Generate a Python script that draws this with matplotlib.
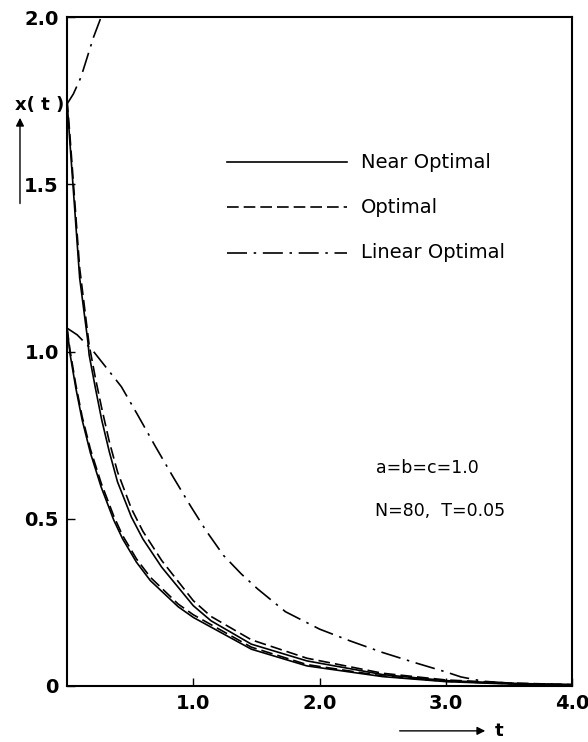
import numpy as np
import matplotlib
matplotlib.use('Agg')
import matplotlib.pyplot as plt
from matplotlib.patches import FancyArrowPatch

# values (t, x(t))
t_near_hi = [0.0, 0.02, 0.10, 0.165, 0.175, 0.225, 0.275, 0.335, 0.40, 0.51,
             0.60, 0.75, 1.00, 1.14, 1.46, 1.90, 2.50, 3.00, 3.50, 4.00]
x_near_hi = [1.75, 1.64, 1.22, 1.03, 0.99, 0.89, 0.795, 0.70, 0.61, 0.505,
             0.44, 0.355, 0.24, 0.195, 0.125, 0.075, 0.034, 0.016, 0.008, 0.004]

t_opt_hi = [0.0, 0.02, 0.10, 0.175, 0.225, 0.275, 0.335, 0.40, 0.51, 0.60,
            0.75, 1.00, 1.14, 1.46, 1.90, 2.50, 3.00, 3.50, 4.00]
x_opt_hi = [1.75, 1.66, 1.25, 1.02, 0.92, 0.83, 0.73, 0.64, 0.53, 0.463,
            0.375, 0.255, 0.208, 0.138, 0.083, 0.038, 0.018, 0.009, 0.004]

t_near_lo = [0.0, 0.025, 0.07, 0.12, 0.185, 0.27, 0.37, 0.44, 0.55, 0.66, 0.88,
             1.00, 1.46, 1.90, 2.50, 3.00, 3.50, 4.00]
x_near_lo = [1.07, 0.99, 0.89, 0.795, 0.697, 0.595, 0.496, 0.44, 0.37, 0.315, 0.237,
             0.205, 0.11, 0.06, 0.028, 0.013, 0.006, 0.003]

t_opt_lo = [0.0, 0.025, 0.07, 0.12, 0.185, 0.27, 0.37, 0.44, 0.55, 0.66, 0.88,
            1.00, 1.46, 1.90, 2.50, 3.00, 3.50, 4.00]
x_opt_lo = [1.07, 1.00, 0.90, 0.805, 0.708, 0.607, 0.508, 0.45, 0.38, 0.325, 0.245,
            0.213, 0.116, 0.064, 0.030, 0.014, 0.007, 0.003]

t_lin_hi = [0.0, 0.05, 0.11, 0.16, 0.21, 0.27, 0.31]
x_lin_hi = [1.74, 1.77, 1.82, 1.88, 1.94, 2.00, 2.05]

t_lin_lo = [0.0, 0.08, 0.21, 0.43, 0.56, 0.70, 0.84, 0.98, 1.10, 1.24, 1.38,
            1.51, 1.73, 2.00, 2.24, 2.50, 2.77, 3.00, 3.12, 3.30, 3.60, 4.00]
x_lin_lo = [1.07, 1.05, 1.00, 0.895, 0.81, 0.716, 0.625, 0.537, 0.465, 0.39, 0.335,
            0.29, 0.222, 0.17, 0.135, 0.10, 0.068, 0.042, 0.027, 0.014, 0.006, 0.004]

y_ticks = [0, 0.5, 1.0, 1.5, 2.0]
y_labels = ['0', '0.5', '1.0', '1.5', '2.0']
x_ticks = [1.0, 2.0, 3.0, 4.0]
x_labels = ['1.0', '2.0', '3.0', '4.0']

legend_names = ['Near Optimal', 'Optimal', 'Linear Optimal']
params_text = ['a=b=c=1.0', 'N=80,  T=0.05']

DASH = (0, (7, 3))
DASHDOT = (0, (12, 4, 1.5, 4))
LW = 1.2

fig = plt.figure(figsize=(5.88, 7.42), dpi=100)
ax = fig.add_axes([0.114, 0.0755, 0.859, 0.9015])

ax.plot(t_near_hi, x_near_hi, '-', color='black', linewidth=LW)
ax.plot(t_opt_hi, x_opt_hi, linestyle=DASH, color='black', linewidth=LW)
ax.plot(t_near_lo, x_near_lo, '-', color='black', linewidth=LW)
ax.plot(t_opt_lo, x_opt_lo, linestyle=DASH, color='black', linewidth=LW)
ax.plot(t_lin_hi, x_lin_hi, linestyle=DASHDOT, color='black', linewidth=LW)
ax.plot(t_lin_lo, x_lin_lo, linestyle=DASHDOT, color='black', linewidth=LW)

# hand-drawn style legend inside the box
leg_y = [1.566, 1.431, 1.296]
leg_styles = ['-', DASH, DASHDOT]
for yy, ls, name in zip(leg_y, leg_styles, legend_names):
    ax.plot([1.27, 2.22], [yy, yy], linestyle=ls, color='black', linewidth=LW)
    ax.text(2.33, yy, name, fontsize=14, ha='left', va='center')

ax.text(2.45, 0.653, params_text[0], fontsize=12.5, ha='left', va='center')
ax.text(2.44, 0.522, params_text[1], fontsize=12.5, ha='left', va='center')

ax.set_xlim(0, 4.0)
ax.set_ylim(0, 2.0)
ax.set_yticks(y_ticks)
ax.set_yticklabels(y_labels, fontsize=14, fontweight='bold')
ax.set_xticks(x_ticks)
ax.set_xticklabels(x_labels, fontsize=14, fontweight='bold')
ax.tick_params(direction='in', length=6, width=1.0, pad=6)
for sp in ax.spines.values():
    sp.set_linewidth(1.5)

# axis captions with arrows
fig.text(0.068, 0.858, 'x( t )', fontsize=13, fontweight='bold', ha='center', va='center')
fig.add_artist(FancyArrowPatch(
    (0.034, 0.722), (0.034, 0.845), transform=fig.transFigure,
    arrowstyle='-|>', mutation_scale=12, color='black', linewidth=1.0))
fig.add_artist(FancyArrowPatch(
    (0.675, 0.015), (0.83, 0.015), transform=fig.transFigure,
    arrowstyle='-|>', mutation_scale=12, color='black', linewidth=1.0))
fig.text(0.842, 0.015, 't', fontsize=13, fontweight='bold', ha='left', va='center')

fig.savefig('out.png', dpi=100)
